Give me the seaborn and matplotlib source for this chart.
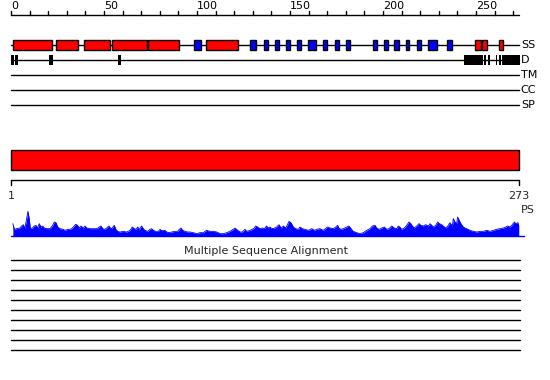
import matplotlib
matplotlib.use("Agg")
import matplotlib.pyplot as plt
from matplotlib.patches import Rectangle
import numpy as np
import pandas as pd
import seaborn as sns

sns.set_theme(style="white")
plt.rcParams['font.family'] = ['DejaVu Sans']

# ---------------- data ----------------
seq_len = 273
track_names = ["SS", "D", "TM", "CC", "SP"]

ss_start = [1.2, 24.2, 39.4, 54.5, 73.8, 98.5, 105.0, 128.7, 136.0, 142.1, 147.8,
            153.8, 159.8, 167.7, 174.2, 180.1, 194.4, 200.4, 206.1, 212.2, 218.3,
            224.4, 234.6, 249.6, 253.2, 262.2]
ss_end = [21.9, 35.9, 53.0, 73.0, 90.2, 102.0, 121.9, 131.9, 138.0, 144.2, 150.2,
          156.0, 164.1, 170.0, 176.2, 182.4, 196.6, 202.5, 208.4, 214.1, 220.3,
          229.0, 237.1, 252.5, 255.8, 264.7]
ss_type = ["H", "H", "H", "H", "H", "E", "H", "E", "E", "E", "E",
           "E", "E", "E", "E", "E", "E", "E", "E", "E", "E",
           "E", "E", "H", "H", "H"]

dis_start = [0.0, 2.3, 20.6, 57.5, 243.5, 254.5, 256.5, 260.5, 262.2, 264.0]
dis_end = [1.6, 3.6, 22.6, 59.0, 253.5, 255.5, 257.5, 261.5, 263.2, 273.5]

ps_pos = [1, 1.8, 3.0, 4.8, 5.7, 6.6, 7.5, 8.4, 9.1, 9.8, 10.4, 11.5, 12.5, 13.4, 14.3,
          15.2, 16.1, 17.0, 17.9, 19.2, 21.0, 22.4, 23.3, 24.2, 25.1, 26.3, 28.1, 29.0,
          30.5, 31.7, 32.6, 33.5, 34.8, 35.8, 36.6, 37.6, 38.9, 39.8, 40.7, 42.5, 44.3,
          46.1, 47.5, 48.4, 49.3, 50.5, 51.4, 52.7, 53.4, 54.1, 55.5, 56.4, 57.3, 58.6,
          60.4, 62.2, 64.0, 65.2, 66.3, 67.2, 68.1, 69.0, 70.2, 71.1, 72.0, 73.5, 74.7,
          75.6, 76.5, 77.8, 79.2, 80.1, 81.0, 82.8, 83.7, 85.0, 86.4, 88.2, 89.6, 90.5,
          91.4, 92.3, 93.5, 95.0, 96.2, 98.0, 99.8, 101.6, 103.4, 104.3, 105.2, 107.0,
          108.8, 110.6, 112.4, 114.2, 116.0, 117.7, 119.5, 120.4, 121.9, 123.1, 124.4,
          125.8, 126.7, 128.5, 129.7, 130.8, 131.5, 132.6, 133.9, 135.1, 136.2, 137.4,
          138.3, 139.2, 139.8, 141.0, 142.8, 144.1, 145.2, 146.4, 147.7, 149.5, 150.5,
          151.8, 153.0, 154.5, 155.4, 156.6, 158.1, 159.9, 161.7, 163.1, 164.3, 166.1,
          167.9, 169.4, 170.3, 171.5, 173.3, 174.6, 175.6, 176.3, 177.4, 178.7, 180.5,
          181.7, 182.8, 184.0, 185.8, 187.6, 189.4, 191.2, 193.0, 194.3, 195.7, 196.6,
          197.9, 199.3, 200.7, 202.0, 203.2, 204.7, 206.1, 207.4, 208.2, 209.1, 210.0,
          211.5, 212.7, 214.0, 214.9, 215.8, 216.8, 218.1, 219.4, 220.4, 221.7, 222.9,
          224.4, 225.3, 226.2, 227.1, 228.3, 229.4, 230.3, 231.5, 232.4, 233.7, 234.8,
          236.0, 237.3, 237.8, 238.7, 239.6, 240.1, 241.0, 241.9, 243.2, 244.1, 245.0,
          246.8, 248.6, 250.4, 252.2, 254.0, 255.7, 257.5, 259.3, 261.1, 262.9, 264.7,
          266.0, 267.0, 268.3, 269.5, 270.6, 271.4, 272.5, 273.0]
ps_score = [37, 20, 22, 24, 30, 34, 24, 52, 74, 52, 22, 24, 30, 32, 24,
            37, 27, 30, 24, 22, 22, 32, 42, 40, 27, 22, 20, 17,
            20, 20, 22, 27, 35, 32, 24, 30, 24, 30, 24, 22, 22,
            22, 27, 30, 22, 20, 24, 30, 24, 22, 32, 20, 14, 12,
            14, 12, 17, 27, 22, 20, 27, 20, 30, 22, 17, 14, 20,
            22, 17, 14, 14, 20, 16, 17, 12, 10, 12, 14, 14, 20,
            24, 17, 14, 12, 12, 10, 7, 10, 10, 14, 17, 14,
            14, 12, 7, 7, 10, 14, 20, 24, 17, 12, 12,
            20, 14, 17, 20, 24, 30, 27, 22, 24, 22, 30,
            24, 27, 24, 22, 27, 34, 24, 30, 24, 44, 40,
            27, 22, 20, 27, 22, 20, 17, 22, 17, 20, 22,
            17, 24, 27, 24, 22, 27, 32, 24, 20, 22, 27,
            30, 22, 14, 10, 7, 10, 17, 22, 30, 32, 24,
            20, 24, 27, 20, 22, 30, 24, 22, 30, 27, 20,
            24, 32, 42, 37, 30, 24, 30, 37, 32, 30, 34,
            30, 37, 32, 27, 32, 42, 37, 34, 30, 24, 30,
            40, 30, 52, 42, 37, 57, 47, 37, 27, 24, 22,
            17, 14, 12, 14, 14, 17, 14, 17, 20, 22, 24,
            27, 30, 27, 34, 42, 37, 40, 32]
n_msa = 10
msa_title = "Multiple Sequence Alignment"

# ---------------- figure ----------------
W, H = 550, 380
fig = plt.figure(figsize=(W / 100, H / 100), dpi=100)
PX = 1.86  # pixels per residue
X0 = 11    # pixel of residue 0


def px_axes(x0, y0, x1, y1):
    return fig.add_axes([x0 / W, 1 - y1 / H, (x1 - x0) / W, (y1 - y0) / H])


ax = fig.add_axes([0, 0, 1, 1])
ax.set_xlim(-X0 / PX, (W - X0) / PX)
ax.set_ylim(H, 0)
ax.axis("off")

fs = 8
# top ruler
ax.plot([0, seq_len], [15, 15], color="black", lw=1)
for t in range(0, seq_len, 10):
    ax.plot([t, t], [15, 11], color="black", lw=1)
for t in range(0, seq_len, 50):
    ax.text(t, 6, str(t), ha="left", va="center", fontsize=fs, color="black")

# tracks
track_y = {"SS": 45, "D": 60, "TM": 75, "CC": 90, "SP": 105}
for name in track_names:
    y = track_y[name]
    ax.plot([0, seq_len], [y, y], color="black", lw=1, zorder=1)
    ax.text(seq_len + 1.1, y, name, ha="left", va="center", fontsize=fs, color="black")

for s, e, t in zip(ss_start, ss_end, ss_type):
    col = "#ff0000" if t == "H" else "#0000ff"
    ax.add_patch(Rectangle((s, 40), e - s, 10, facecolor=col, edgecolor="black",
                           lw=1, zorder=3))
for s, e in zip(dis_start, dis_end):
    ax.add_patch(Rectangle((s, 55), e - s, 10, facecolor="black", lw=0, zorder=3))

# domain bar
ax.add_patch(Rectangle((0, 150), seq_len, 20, facecolor="#ff0000", edgecolor="black",
                       lw=1, zorder=3))
ax.plot([0, seq_len], [180, 180], color="black", lw=1)
ax.plot([0, 0], [180, 185], color="black", lw=1)
ax.plot([seq_len, seq_len], [180, 185], color="black", lw=1)
ax.text(0, 196, "1", ha="center", va="center", fontsize=fs)
ax.text(seq_len, 196, str(seq_len), ha="center", va="center", fontsize=fs)
ax.text(seq_len + 1.1, 210, "PS", ha="left", va="center", fontsize=fs)

# MSA
ax.text(seq_len / 2 + 0.5, 251, msa_title, ha="center", va="center", fontsize=fs)
for i in range(n_msa):
    y = 260 + 10 * i
    ax.plot([0, seq_len + 0.5], [y, y], color="black", lw=1)

# profile
pax = px_axes(X0, 205, X0 + seq_len * PX, 236)
df = pd.DataFrame({"pos": ps_pos, "score": ps_score})
sns.lineplot(data=df, x="pos", y="score", ax=pax, color="#0000ff", lw=0.6)
pax.fill_between(df["pos"], 0, df["score"], color="#0000ff", lw=0)
pax.plot([0, seq_len + 3], [0, 0], color="#0000ff", lw=1, clip_on=False)
pax.set_xlim(0, seq_len)
pax.set_ylim(0, 93)
pax.axis("off")
pax.patch.set_alpha(0)

fig.savefig("out.png", dpi=100)
